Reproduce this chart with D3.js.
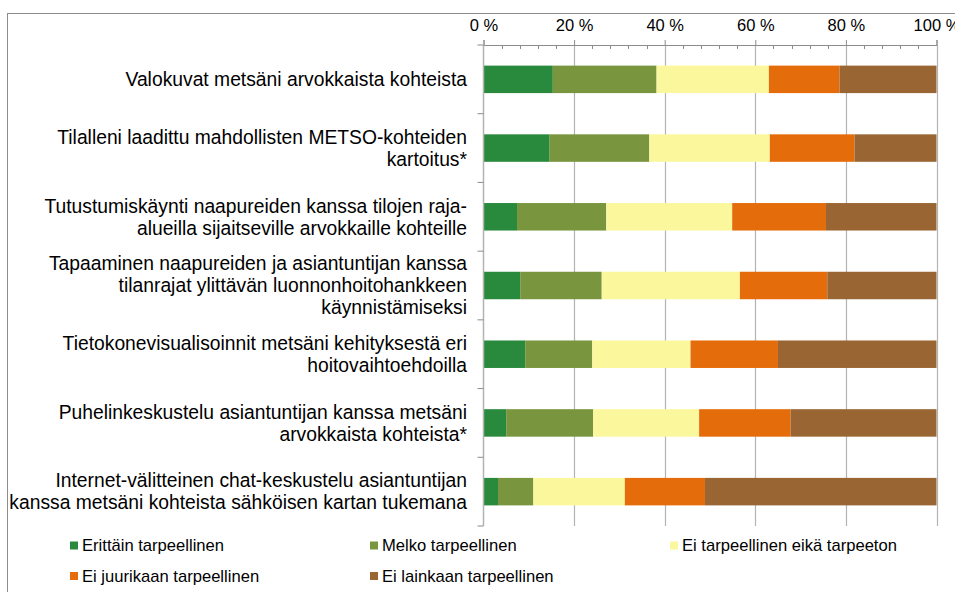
<!DOCTYPE html>
<html>
<head>
<meta charset="utf-8">
<script src="https://cdn.jsdelivr.net/npm/d3@7"></script>
<style>
  body { margin: 0; background: #fff; }
  svg { display: block; font-family: "Liberation Sans", Arial, sans-serif; }
</style>
</head>
<body>
<div id="chart"></div>
<script>
// category labels, one entry per bar (lines split with \n)
const categories = [
  "Valokuvat metsäni arvokkaista kohteista",
  "Tilalleni laadittu mahdollisten METSO-kohteiden\nkartoitus*",
  "Tutustumiskäynti naapureiden kanssa tilojen raja-\nalueilla sijaitseville arvokkaille kohteille",
  "Tapaaminen naapureiden ja asiantuntijan kanssa\ntilanrajat ylittävän luonnonhoitohankkeen\nkäynnistämiseksi",
  "Tietokonevisualisoinnit metsäni kehityksestä eri\nhoitovaihtoehdoilla",
  "Puhelinkeskustelu asiantuntijan kanssa metsäni\narvokkaista kohteista*",
  "Internet-välitteinen chat-keskustelu asiantuntijan\nkanssa metsäni kohteista sähköisen kartan tukemana"
];

const seriesNames = [
  "Erittäin tarpeellinen",
  "Melko tarpeellinen",
  "Ei tarpeellinen eikä tarpeeton",
  "Ei juurikaan tarpeellinen",
  "Ei lainkaan tarpeellinen"
];

// percentages per series, in category order
const erittain   = [15.3, 14.6, 7.4, 8.1, 9.2, 5.0, 3.2];
const melko      = [22.9, 22.0, 19.7, 18.0, 14.8, 19.2, 7.8];
const eiEika     = [24.8, 26.6, 27.8, 30.5, 21.7, 23.4, 20.2];
const eiJuuri    = [15.6, 18.7, 20.7, 19.3, 19.3, 20.2, 17.7];
const eiLainkaan = [21.4, 18.1, 24.4, 24.1, 35.0, 32.2, 51.1];

const tickValues = [0, 20, 40, 60, 80, 100];

const colors = ["#29893c", "#79953e", "#fbf79d", "#e46c0a", "#996633"];

const width = 955, height = 592;
const svg = d3.select("#chart").append("svg")
  .attr("width", width)
  .attr("height", height);

// chart frame
svg.append("rect")
  .attr("x", 7.5).attr("y", 13.5)
  .attr("width", 1000).attr("height", 1000)
  .attr("fill", "none")
  .attr("stroke", "#8c8c8c")
  .attr("stroke-width", 1);

const allSeries = [erittain, melko, eiEika, eiJuuri, eiLainkaan];
const table = categories.map((c, i) => {
  const row = { category: c };
  seriesNames.forEach((s, j) => row[s] = allSeries[j][i]);
  return row;
});

const xScale = d3.scaleLinear().domain([0, 100]).range([483.5, 936.5]);
const yScale = d3.scaleBand()
  .domain(categories)
  .range([45, 526])
  .paddingInner(0.6)
  .paddingOuter(0.3);

const plotTop = 45, plotBottom = 526;

// gridlines
svg.append("g")
  .selectAll("line")
  .data(tickValues.slice(1))
  .join("line")
  .attr("x1", d => Math.round(xScale(d)) + 0.5)
  .attr("x2", d => Math.round(xScale(d)) + 0.5)
  .attr("y1", plotTop)
  .attr("y2", plotBottom)
  .attr("stroke", "#b3b3b3")
  .attr("stroke-width", 1.2);

// stacked bars
const stack = d3.stack().keys(seriesNames);
const stacked = stack(table);

svg.append("g")
  .selectAll("g")
  .data(stacked)
  .join("g")
  .attr("fill", (d, i) => colors[i])
  .selectAll("rect")
  .data(d => d)
  .join("rect")
  .attr("x", d => xScale(d[0]))
  .attr("width", d => xScale(d[1]) - xScale(d[0]))
  .attr("y", d => yScale(d.data.category))
  .attr("height", yScale.bandwidth());

// top value axis
const xAxis = svg.append("g")
  .attr("transform", `translate(0,${plotTop})`)
  .call(d3.axisTop(xScale)
    .tickValues(tickValues)
    .tickSize(5)
    .tickPadding(9)
    .tickFormat(d => d + " %"));
xAxis.select(".domain").attr("stroke", "#8c8c8c");
xAxis.selectAll(".tick line").attr("stroke", "#8c8c8c");
xAxis.selectAll(".tick text")
  .attr("fill", "#000")
  .style("font-size", "16.5px")
  .style("font-family", "'Liberation Sans', Arial, sans-serif");

// minor ticks every 4 %
svg.append("g")
  .selectAll("line")
  .data(d3.range(4, 100, 4).filter(v => v % 20 !== 0))
  .join("line")
  .attr("x1", d => Math.round(xScale(d)) + 0.5)
  .attr("x2", d => Math.round(xScale(d)) + 0.5)
  .attr("y1", plotTop)
  .attr("y2", plotTop + 4)
  .attr("stroke", "#8c8c8c");

// category axis
const catAxis = svg.append("g");
catAxis.append("line")
  .attr("x1", xScale(0)).attr("x2", xScale(0))
  .attr("y1", plotTop).attr("y2", plotBottom)
  .attr("stroke", "#b3b3b3")
  .attr("stroke-width", 1.5);
const step = yScale.step();
catAxis.selectAll("line.ctick")
  .data(d3.range(categories.length + 1))
  .join("line")
  .attr("class", "ctick")
  .attr("x1", xScale(0) - 6).attr("x2", xScale(0))
  .attr("y1", i => plotTop + i * step)
  .attr("y2", i => plotTop + i * step)
  .attr("stroke", "#8c8c8c");

// category labels
const lineHeight = 22;
svg.append("g")
  .selectAll("text")
  .data(categories)
  .join("text")
  .attr("text-anchor", "end")
  .attr("fill", "#000")
  .style("font-size", "19.3px")
  .each(function (d) {
    const lines = d.split("\n");
    const cy = yScale(d) + yScale.bandwidth() / 2;
    const first = cy - (lines.length - 1) * lineHeight / 2;
    d3.select(this).selectAll("tspan")
      .data(lines)
      .join("tspan")
      .attr("x", 467)
      .attr("y", (l, i) => first + i * lineHeight)
      .attr("dy", "0.35em")
      .text(l => l);
  });

// legend
const legendCols = [70, 370, 670];
const legendRows = [545.5, 576];
const legend = svg.append("g")
  .selectAll("g")
  .data(seriesNames)
  .join("g")
  .attr("transform", (d, i) => `translate(${legendCols[i % 3]},${legendRows[Math.floor(i / 3)]})`);
legend.append("rect")
  .attr("x", 0).attr("y", -4)
  .attr("width", 8).attr("height", 8)
  .attr("fill", (d, i) => colors[i]);
legend.append("text")
  .attr("x", 12)
  .attr("dy", "0.35em")
  .attr("fill", "#000")
  .style("font-size", "16.6px")
  .text(d => d);
</script>
</body>
</html>
